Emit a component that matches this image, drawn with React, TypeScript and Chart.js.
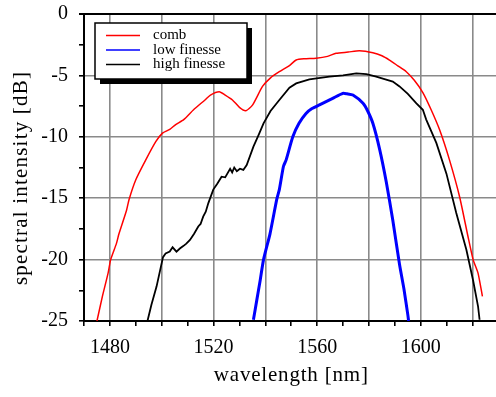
import { useEffect, useRef } from 'react';
import { Chart, registerables } from 'chart.js';

Chart.register(...registerables);

// ---- data ----
const combX = [1475.0, 1477.1, 1479.3, 1480.3, 1482.5, 1483.5, 1486.4, 1487.4, 1490.0, 1493.8, 1497.7, 1500.3, 1503.1, 1505.4, 1508.5, 1512.3, 1516.7, 1518.8, 1522.2, 1524.5, 1527.3, 1530.0, 1532.5, 1535.1, 1538.9, 1542.0, 1545.4, 1549.3, 1551.9, 1555.0, 1559.6, 1564.0, 1567.3, 1572.0, 1576.3, 1581.5, 1585.0, 1587.9, 1591.0, 1594.4, 1597.5, 1600.8, 1604.0, 1607.3, 1611.1, 1615.0, 1618.2, 1620.2, 1622.1, 1623.8];
const combY = [-25.0, -23.0, -21.1, -20.0, -18.7, -17.9, -16.0, -15.1, -13.5, -11.9, -10.4, -9.7, -9.4, -9.0, -8.6, -7.8, -7.0, -6.6, -6.33, -6.6, -7.0, -7.6, -7.87, -7.4, -5.9, -5.2, -4.7, -4.2, -3.75, -3.65, -3.6, -3.45, -3.2, -3.1, -2.99, -3.15, -3.4, -3.75, -4.2, -4.7, -5.4, -6.4, -7.8, -9.45, -11.9, -14.9, -18.1, -20.0, -21.1, -23.0];

const lowX = [1535.4, 1536.7, 1538.0, 1539.3, 1541.8, 1544.4, 1545.4, 1547.0, 1548.0, 1550.6, 1553.0, 1555.7, 1558.0, 1560.9, 1566.0, 1569.9, 1571.5, 1573.8, 1577.7, 1579.5, 1581.5, 1584.1, 1586.7, 1589.2, 1591.8, 1593.5, 1595.0, 1595.3];
const lowY = [-24.9, -23.3, -21.7, -20.0, -17.9, -15.1, -14.3, -12.4, -11.9, -10.0, -8.9, -8.1, -7.7, -7.4, -6.87, -6.46, -6.5, -6.6, -7.27, -7.9, -8.9, -11.0, -13.7, -16.8, -20.4, -22.4, -24.5, -25.0];

const highX = [1494.5, 1496.0, 1498.0, 1500.5, 1501.5, 1503.1, 1504.2, 1505.7, 1507.0, 1508.3, 1509.5, 1510.9, 1512.5, 1514.1, 1515.0, 1516.0, 1517.0, 1518.0, 1519.9, 1521.5, 1523.1, 1524.5, 1526.4, 1527.2, 1528.0, 1529.0, 1530.2, 1531.5, 1532.8, 1535.4, 1537.5, 1539.3, 1542.0, 1545.4, 1549.3, 1551.9, 1557.0, 1564.7, 1570.0, 1575.1, 1579.0, 1582.8, 1586.0, 1589.2, 1591.8, 1595.0, 1598.3, 1600.8, 1602.1, 1606.0, 1609.9, 1613.7, 1617.6, 1620.2, 1622.1, 1622.7];
const highY = [-25.0, -23.7, -22.2, -19.8, -19.5, -19.35, -19.0, -19.35, -19.1, -18.9, -18.7, -18.4, -17.9, -17.3, -17.1, -16.5, -16.1, -15.4, -14.3, -13.8, -13.25, -13.3, -12.6, -12.9, -12.5, -12.8, -12.6, -12.7, -12.3, -10.8, -9.8, -8.9, -7.9, -7.0, -6.0, -5.65, -5.32, -5.1, -5.0, -4.83, -4.9, -5.1, -5.3, -5.5, -5.9, -6.5, -7.27, -7.8, -8.6, -10.5, -13.0, -16.2, -19.2, -21.7, -23.8, -24.9];

const seriesLabels = ['comb', 'low finesse', 'high finesse'];
const seriesColors = ['#ff0000', '#0000ff', '#000000'];

const xMin = 1470, xMax = 1630, xStep = 10, xGridStep = 20, xLabelStep = 40;
const yMin = -25, yMax = 0, yStep = 2.5, yLabelStep = 5;
const xTitle = 'wavelength [nm]';
const yTitle = 'spectral intensity [dB]';

const W = 510, H = 397;
const FONT = '"Liberation Serif", "Times New Roman", serif';
const GRID = '#8a8a8a';

const pts = (xs: number[], ys: number[]) => xs.map((x, i) => ({ x, y: ys[i] }));

const decor = {
  id: 'decor',
  afterDraw(chart: any) {
    const ctx = chart.ctx;
    const ca = chart.chartArea;
    ctx.save();
    // axis titles
    ctx.fillStyle = '#000';
    ctx.font = `21px ${FONT}`;
    ctx.textAlign = 'center';
    ctx.textBaseline = 'alphabetic';
    (ctx as any).letterSpacing = '0.8px';
    ctx.fillText(xTitle, (ca.left + ca.right) / 2, 381);
    ctx.save();
    (ctx as any).letterSpacing = '1.2px';
    ctx.translate(27, 178);
    ctx.rotate(-Math.PI / 2);
    ctx.fillText(yTitle, 0, 0);
    ctx.restore();
    (ctx as any).letterSpacing = '0px';

    // legend
    const bx = 95, by = 23, bw = 152, bh = 56;
    ctx.fillStyle = '#000';
    ctx.fillRect(bx + 5, by + 5, bw, bh);
    ctx.fillStyle = '#fff';
    ctx.fillRect(bx, by, bw, bh);
    ctx.strokeStyle = '#000';
    ctx.lineWidth = 1.5;
    ctx.strokeRect(bx, by, bw, bh);
    ctx.font = `15px ${FONT}`;
    ctx.textAlign = 'left';
    chart.data.datasets.forEach((ds: any, i: number) => {
      const ly = 35.5 + i * 14.5;
      ctx.strokeStyle = ds.borderColor;
      ctx.lineWidth = 1.6;
      ctx.beginPath();
      ctx.moveTo(106, ly);
      ctx.lineTo(140, ly);
      ctx.stroke();
      ctx.fillStyle = '#000';
      ctx.fillText(ds.label, 153, ly + 3.5);
    });
    ctx.restore();
  },
};

export default function App() {
  const ref = useRef<HTMLCanvasElement>(null);
  useEffect(() => {
    if (!ref.current) return;
    const chart = new Chart(ref.current, {
      type: 'line',
      data: {
        datasets: [
          { label: seriesLabels[0], data: pts(combX, combY), borderColor: seriesColors[0], borderWidth: 1.5, pointRadius: 0, tension: 0.2, fill: false },
          { label: seriesLabels[1], data: pts(lowX, lowY), borderColor: seriesColors[1], borderWidth: 3, pointRadius: 0, tension: 0.2, fill: false },
          { label: seriesLabels[2], data: pts(highX, highY), borderColor: seriesColors[2], borderWidth: 1.8, pointRadius: 0, tension: 0, fill: false },
        ],
      },
      options: {
        responsive: false,
        animation: false,
        devicePixelRatio: 1,
        layout: { padding: { top: 14, right: W - 498.5, left: 0, bottom: 0 } },
        plugins: { legend: { display: false }, tooltip: { enabled: false } },
        scales: {
          x: {
            type: 'linear',
            min: xMin,
            max: xMax,
            afterFit: (s: any) => { s.height = 76; s.paddingLeft = 0; s.paddingRight = 0; },
            border: { display: true, color: '#000', width: 2 },
            grid: {
              color: (c: any) => (c.tick && Math.abs(c.tick.value % xGridStep) < 1e-6 ? GRID : 'rgba(0,0,0,0)'),
              lineWidth: 1.6,
              tickColor: '#000',
              tickLength: 5,
              drawTicks: true,
            },
            ticks: {
              stepSize: xStep,
              autoSkip: false,
              maxRotation: 0,
              padding: 10,
              color: '#000',
              font: { family: FONT, size: 20 },
              callback: (v: any) => (Math.abs(v % xLabelStep) < 1e-6 ? String(v) : ''),
            },
          },
          y: {
            type: 'linear',
            min: yMin,
            max: yMax,
            afterFit: (s: any) => { s.width = 84; s.paddingTop = 0; s.paddingBottom = 0; },
            border: { display: true, color: '#000', width: 2 },
            grid: {
              color: (c: any) => {
                if (!c.tick) return 'rgba(0,0,0,0)';
                if (c.tick.value === yMax) return '#000';
                return Math.abs(c.tick.value % yLabelStep) < 1e-6 ? GRID : 'rgba(0,0,0,0)';
              },
              lineWidth: (c: any) => (c.tick && c.tick.value === yMax ? 2 : 1.6),
              tickColor: '#000',
              tickLength: 5,
              drawTicks: true,
            },
            ticks: {
              stepSize: yStep,
              autoSkip: false,
              padding: 11,
              color: '#000',
              font: { family: FONT, size: 20 },
              callback: (v: any) => (Math.abs(v % yLabelStep) < 1e-6 ? String(v === 0 ? 0 : v) : ''),
            },
          },
        },
      },
      plugins: [decor],
    });
    return () => chart.destroy();
  }, []);
  return (
    <div style={{ position: 'fixed', left: 0, top: 0, width: 496, height: 397, overflow: 'hidden', background: '#fff' }}>
      <canvas ref={ref} width={W} height={H} style={{ width: W, height: H, display: 'block' }} />
    </div>
  );
}
